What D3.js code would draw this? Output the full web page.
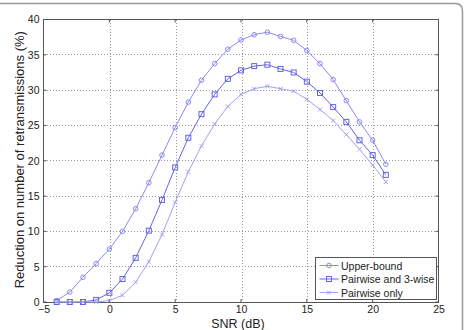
<!DOCTYPE html>
<html>
<head>
<meta charset="utf-8">
<script src="https://cdn.jsdelivr.net/npm/d3@7"></script>
<style>
body { margin: 0; background: #fff; }
svg { display: block; font-family: "Liberation Sans", Arial, sans-serif; }
.grid line { stroke: #999; stroke-dasharray: 1,2; shape-rendering: crispEdges; }
.axis path, .axis line { stroke: #444; shape-rendering: crispEdges; }
.axis text { fill: #222; font-size: 10.5px; }
</style>
</head>
<body>
<div id="chart"></div>
<script>
var snr = [-4,-3,-2,-1,0,1,2,3,4,5,6,7,8,9,10,11,12,13,14,15,16,17,18,19,20,21];
var upperBound = [0.2,1.4,3.5,5.45,7.5,10.0,13.2,16.9,20.8,24.7,28.3,31.4,33.75,35.8,37.1,37.85,38.2,37.6,37.05,35.6,33.75,31.5,28.5,25.5,22.9,19.5];
var pairwise3 = [0,0,0,0.3,1.3,3.25,6.25,10.1,14.45,19.05,23.25,26.6,29.4,31.6,32.8,33.4,33.6,33.0,32.5,31.2,29.6,27.6,25.5,22.9,20.8,18.0];
var pairwiseOnly = [0,0,0,0,0.2,0.95,2.8,5.7,9.55,14.1,18.45,22.1,25.2,27.7,29.4,30.2,30.55,30.2,29.85,28.7,27.25,25.7,23.7,21.6,19.4,17.0];
var seriesNames = ["Upper-bound","Pairwise and 3-wise","Pairwise only"];
var xTicks = [-5,0,5,10,15,20,25];
var yTicks = [0,5,10,15,20,25,30,35,40];

var W = 464, H = 330;
var margin = {left: 43.5, top: 19.5, right: 25.5, bottom: 28};
var w = W - margin.left - margin.right,
	h = H - margin.top - margin.bottom;

var svg = d3.select("#chart").append("svg")
	.attr("width", W)
	.attr("height", H);

// outer frame (only top and right edge visible)
svg.append("path")
	.attr("d", "M0,3.5 H455 Q462.5,3.5 462.5,11 V330")
	.style("fill", "none")
	.style("stroke", "#999")
	.style("stroke-width", 1.5);

var g = svg.append("g")
	.attr("transform", "translate(" + margin.left + "," + margin.top + ")");

var x = d3.scaleLinear().domain([-5, 25]).range([0, w]);
var y = d3.scaleLinear().domain([0, 40]).range([h, 0]);

// grid
g.append("g").attr("class", "grid")
	.selectAll("line").data(xTicks.slice(1, -1)).enter().append("line")
	.attr("x1", function(d) { return Math.round(x(d)) + 0.5; })
	.attr("x2", function(d) { return Math.round(x(d)) + 0.5; })
	.attr("y1", 0).attr("y2", h);
g.append("g").attr("class", "grid")
	.selectAll("line").data(yTicks.slice(1, -1)).enter().append("line")
	.attr("y1", function(d) { return y(d); })
	.attr("y2", function(d) { return y(d); })
	.attr("x1", 0).attr("x2", w);

// axes box
g.append("rect")
	.attr("width", w).attr("height", h)
	.style("fill", "none")
	.style("stroke", "#555")
	.style("shape-rendering", "crispEdges");

var xAxis = d3.axisBottom(x).tickValues(xTicks).tickSize(0).tickPadding(4);
var yAxis = d3.axisLeft(y).tickValues(yTicks).tickSize(0).tickPadding(4);

g.append("g").attr("class", "axis")
	.attr("transform", "translate(0," + h + ")")
	.call(xAxis)
	.call(function(s) { s.select(".domain").remove(); });

g.append("g").attr("class", "axis")
	.call(yAxis)
	.call(function(s) { s.select(".domain").remove(); });

// inward tick marks like matlab
var tk = g.append("g").style("stroke", "#555");
xTicks.forEach(function(d) {
	tk.append("line").attr("x1", x(d)).attr("x2", x(d)).attr("y1", h).attr("y2", h - 3);
	tk.append("line").attr("x1", x(d)).attr("x2", x(d)).attr("y1", 0).attr("y2", 3);
});
yTicks.forEach(function(d) {
	tk.append("line").attr("y1", y(d)).attr("y2", y(d)).attr("x1", 0).attr("x2", 3);
	tk.append("line").attr("y1", y(d)).attr("y2", y(d)).attr("x1", w).attr("x2", w - 3);
});

// axis titles
svg.append("text")
	.attr("x", margin.left + x(10) - 3)
	.attr("y", 327.5)
	.attr("text-anchor", "middle")
	.style("font-size", "12.5px")
	.style("fill", "#222")
	.text("SNR (dB)");

svg.append("text")
	.attr("transform", "translate(24," + (margin.top + h / 2 - 1) + ") rotate(-90)")
	.attr("text-anchor", "middle")
	.style("font-size", "13px")
	.style("fill", "#222")
	.text("Reduction on number of retransmissions (%)");

var colors = ["#8a8af0", "#6464e6", "#a2a2f2"];
var allSeries = [upperBound, pairwise3, pairwiseOnly];

var line = d3.line()
	.x(function(d) { return x(d[0]); })
	.y(function(d) { return y(d[1]); });

function drawMarker(sel, kind, cx, cy, col) {
	if (kind === 0) {
		sel.append("circle").attr("cx", cx).attr("cy", cy).attr("r", 2.3)
			.style("fill", "none").style("stroke", col).style("stroke-width", 1);
	} else if (kind === 1) {
		sel.append("rect").attr("x", cx - 2.5).attr("y", cy - 2.5).attr("width", 5).attr("height", 5)
			.style("fill", "none").style("stroke", col).style("stroke-width", 1);
	} else {
		sel.append("path").attr("d", "M" + (cx - 2) + "," + (cy - 2) + "L" + (cx + 2) + "," + (cy + 2) +
			"M" + (cx - 2) + "," + (cy + 2) + "L" + (cx + 2) + "," + (cy - 2))
			.style("stroke", col).style("stroke-width", 1);
	}
}

allSeries.forEach(function(vals, i) {
	var pts = snr.map(function(s, j) { return [s, vals[j]]; });
	g.append("path")
		.datum(pts)
		.attr("d", line)
		.style("fill", "none")
		.style("stroke", colors[i])
		.style("stroke-width", 1);
	var mg = g.append("g");
	pts.forEach(function(p) { drawMarker(mg, i, x(p[0]), y(p[1]), colors[i]); });
});

// legend
var legend = svg.append("g")
	.attr("transform", "translate(" + 315.5 + "," + 257.5 + ")");

legend.append("rect")
	.attr("width", 120.5)
	.attr("height", 42)
	.style("fill", "#fff")
	.style("stroke", "#555")
	.style("shape-rendering", "crispEdges");

seriesNames.forEach(function(name, i) {
	var ly = 8 + i * 13.5;
	legend.append("line")
		.attr("x1", 4).attr("x2", 23)
		.attr("y1", ly).attr("y2", ly)
		.style("stroke", colors[i]);
	drawMarker(legend, i, 13.5, ly, colors[i]);
	legend.append("text")
		.attr("x", 25.5)
		.attr("y", ly + 4)
		.style("font-size", "10.5px")
		.style("fill", "#222")
		.text(name);
});
</script>
</body>
</html>
